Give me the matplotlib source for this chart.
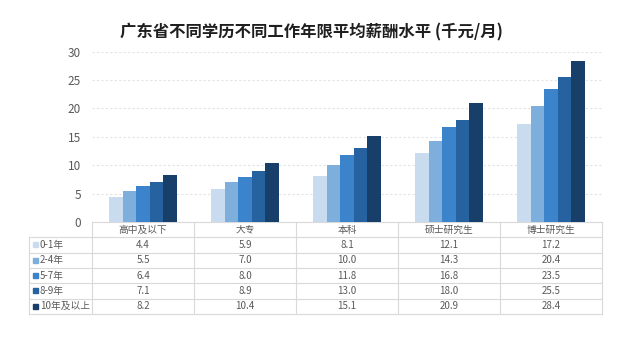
import matplotlib.pyplot as plt
from matplotlib.patches import Rectangle

plt.rcParams['font.family'] = ['Noto Sans CJK SC', 'DejaVu Sans']

categories = ['高中及以下', '大专', '本科', '硕士研究生', '博士研究生']
groups = ['0-1年', '2-4年', '5-7年', '8-9年', '10年及以上']
values = [
    [4.4, 5.9, 8.1, 12.1, 17.2],
    [5.5, 7.0, 10.0, 14.3, 20.4],
    [6.4, 8.0, 11.8, 16.8, 23.5],
    [7.1, 8.9, 13.0, 18.0, 25.5],
    [8.2, 10.4, 15.1, 20.9, 28.4],
]
colors = ['#c9dbef', '#7eaedc', '#3b84cb', '#25629f', '#173f69']
yticks = [0, 5, 10, 15, 20, 25, 30]

W, H = 623, 339
fig = plt.figure(figsize=(W / 100, H / 100), dpi=100)
fig.patch.set_facecolor('white')

# axes box in pixels: left 92, right 602, top 51.7, bottom 222
ax = fig.add_axes([92 / W, (H - 222) / H, 510 / W, 170.3 / H])
n = len(categories)
bw = 0.133
for i, (g, vals, c) in enumerate(zip(groups, values, colors)):
    xs = [k + (i - 2) * bw for k in range(n)]
    ax.bar(xs, vals, width=bw, color=c, linewidth=0, zorder=3)

ax.set_xlim(-0.5, n - 0.5)
ax.set_ylim(0, 30)
ax.set_yticks(yticks)
ax.set_xticks([])
ax.tick_params(axis='y', length=0, pad=8, labelsize=8.5, labelcolor='#595959')
ax.grid(axis='y', color='#e3e3e3', linestyle=(0, (2, 2)), linewidth=0.8, zorder=0)
for s in ax.spines.values():
    s.set_visible(False)

fig.text(0.5, 1 - 32 / H, '广东省不同学历不同工作年限平均薪酬水平 (千元/月)',
         ha='center', va='center', fontsize=11.8, fontweight='bold', color='#1f1f1f')

# data table under the bars
tr = ax.get_xaxis_transform()
px = 1 / 170.3          # one pixel in axes units (vertical)
unit = 102.0            # pixels per data unit (horizontal)
row_h = 15.3 * px
left = -0.5 - 63 / unit
right = n - 0.5
line_kw = dict(color='#d9d9d9', linewidth=0.8, transform=tr, clip_on=False)

n_rows = len(groups) + 1
bottom = -n_rows * row_h
# horizontal lines
ax.plot([-0.5, right], [0, 0], **line_kw)
for r in range(1, n_rows + 1):
    ax.plot([left, right], [-r * row_h, -r * row_h], **line_kw)
# vertical lines
ax.plot([left, left], [-row_h, bottom], **line_kw)
for k in range(n + 1):
    ax.plot([k - 0.5, k - 0.5], [0, bottom], **line_kw)

txt_kw = dict(transform=tr, clip_on=False, fontsize=7, color='#595959', va='center')
for k, cat in enumerate(categories):
    ax.text(k, -0.5 * row_h, cat, ha='center', **txt_kw)
for i, (g, vals, c) in enumerate(zip(groups, values, colors)):
    yc = -(i + 1.5) * row_h
    ax.add_patch(Rectangle((left + 4 / unit, yc - 2.5 * px), 5 / unit, 5 * px,
                           color=c, transform=tr, clip_on=False))
    ax.text(left + 11 / unit, yc, g, ha='left', **txt_kw)
    for k, v in enumerate(vals):
        ax.text(k, yc, f'{v:.1f}', ha='center', **txt_kw)

fig.savefig('out.png', dpi=100)
